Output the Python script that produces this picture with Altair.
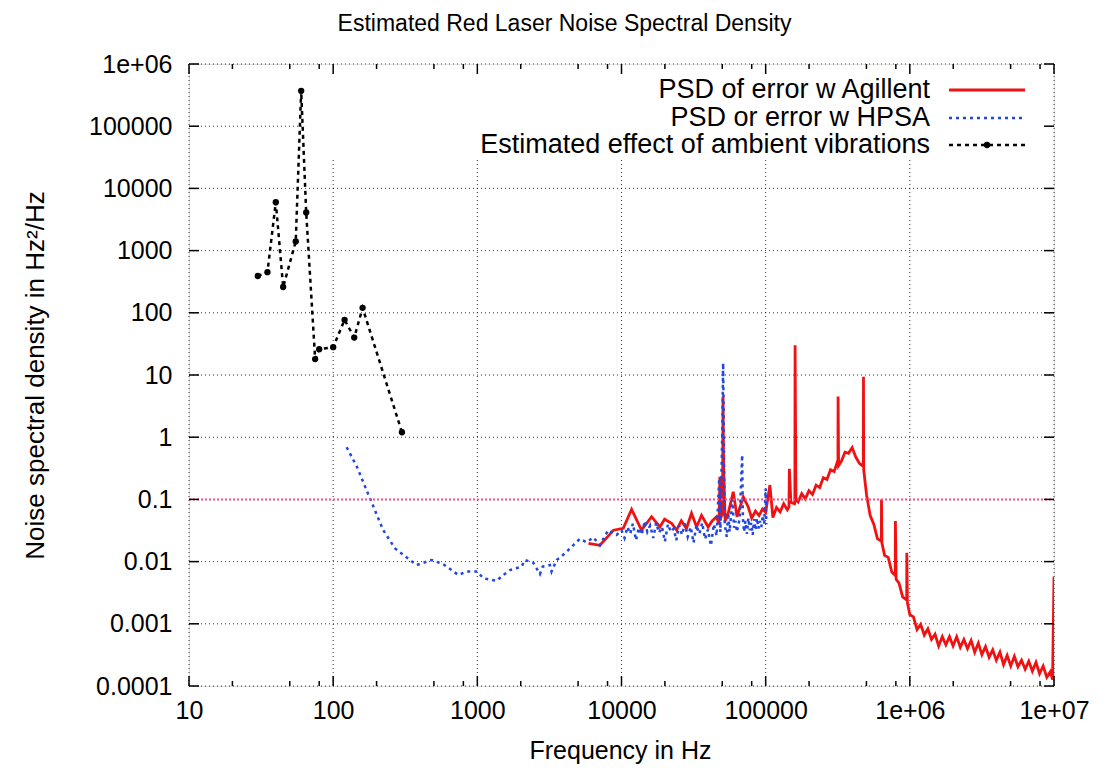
import json
import altair as alt
import pandas as pd

FONT = "Liberation Sans"

# ---- Estimated effect of ambient vibrations (black, dashed with points)
vib_f = [30, 35, 40, 45, 55, 60, 65, 75, 80, 100, 120, 140, 160, 300]
vib_v = [390, 450, 6000, 260, 1400, 370000, 4100, 18, 26, 28, 77, 40, 120, 1.2]

# ---- PSD or error w HPSA (blue, dotted)
hpsa_f = [124, 146, 180, 222, 268, 341, 379, 482, 581, 738, 843, 1000, 1099, 1361,
          1514, 1683, 2028, 2137, 2443, 2719, 2840, 3185, 3270, 3550, 3845, 4270,
          4620, 5140, 5720, 6370, 7080, 8090, 9250,
          10000, 10500, 11000, 11500, 12000, 12600, 13200, 13800, 14500, 15100,
          15800, 16600, 17400, 18200, 19100, 20000, 21000, 22000, 23000, 24000,
          25100, 26300, 27500, 28800, 30200, 31600, 33100, 34700, 36300, 38000,
          39800, 41700, 43700, 45700, 47600, 48500, 50100, 50700, 51300, 52000,
          53700, 55000, 56200, 58900, 60300, 61700, 63100, 66100, 68700, 69500,
          70800, 72400, 74100, 75900, 77600, 79400, 81300, 83200, 85100, 87100,
          89100, 91200, 93300, 95500, 97700, 100000, 101000]
hpsa_v = [0.69, 0.336, 0.104, 0.0322, 0.0164, 0.0106, 0.0088, 0.0106, 0.0091, 0.0061,
          0.0069, 0.0069, 0.0054, 0.0049, 0.0061, 0.0073, 0.0083, 0.0106, 0.0096,
          0.0063, 0.0083, 0.0088, 0.0069, 0.0106, 0.0122, 0.0153, 0.0183, 0.0232,
          0.0205, 0.0245, 0.0183, 0.032, 0.0268,
          0.032, 0.024, 0.036, 0.028, 0.041, 0.022, 0.035, 0.027, 0.045, 0.030,
          0.038, 0.024, 0.042, 0.029, 0.036, 0.021, 0.040, 0.030, 0.034, 0.022,
          0.038, 0.027, 0.041, 0.025, 0.036, 0.020, 0.039, 0.028, 0.042, 0.023,
          0.033, 0.018, 0.040, 0.026, 0.218, 0.030, 1.5, 15.6, 1.0, 0.040,
          0.025, 0.060, 0.030, 0.10, 0.035, 0.045, 0.030, 0.050, 0.52, 0.050,
          0.030, 0.045, 0.028, 0.050, 0.032, 0.042, 0.027, 0.048, 0.032, 0.050,
          0.034, 0.045, 0.036, 0.055, 0.040, 0.15, 0.040]

# ---- PSD of error w Agillent (red, solid)
agil_f = [5900, 7080, 8000, 8800, 10280, 11750, 13770, 16170, 18460, 19900, 22240,
          24100, 26000, 28200, 30600, 33200, 35900, 39900, 42500, 45600, 47500,
          48100, 48800, 50200, 50600, 51100, 52400, 55000, 59600, 63300, 69900,
          75700, 80000, 85000, 90000, 95000,
          100000, 107000, 112200, 118900, 125900, 133400, 141300, 145000, 146000,
          149600, 158500, 159400, 160000, 162200, 167900, 177800, 188400, 199500,
          211300, 223900, 237100, 251200, 266100, 281800, 298500, 316200, 317200,
          318000, 320600, 335000, 354800, 375800, 398100, 421700, 446700, 475500,
          477000, 478600, 501200, 530900, 562300, 595700, 631000, 634500, 636000,
          640000, 668300, 707900, 749900, 792000, 794300, 803500, 841400, 891300,
          944100, 951500, 953000, 961600, 1000000, 1059000, 1122000, 1189000,
          1259000, 1334000, 1413000, 1496000, 1585000, 1679000, 1778000, 1884000,
          1995000, 2113000, 2239000, 2371000, 2512000, 2661000, 2818000, 2985000,
          3162000, 3350000, 3548000, 3758000, 3981000, 4217000, 4467000, 4732000,
          5012000, 5309000, 5623000, 5957000, 6310000, 6683000, 7079000, 7499000,
          7943000, 8414000, 8913000, 9441000, 9772000, 10000000]
agil_v = [0.0197, 0.0183, 0.025, 0.032, 0.0343, 0.069, 0.032, 0.0527, 0.036, 0.048,
          0.0413, 0.032, 0.0454, 0.034, 0.060, 0.036, 0.0555, 0.036, 0.045, 0.0527,
          0.040, 0.232, 0.050, 0.060, 4.5, 0.30, 0.045, 0.060, 0.133, 0.0527, 0.11,
          0.0755, 0.050, 0.065, 0.055, 0.070,
          0.062, 0.17, 0.051, 0.074, 0.063, 0.085, 0.068, 0.075, 0.31,
          0.09, 0.085, 0.09, 30, 0.10, 0.091, 0.124, 0.102, 0.138,
          0.12, 0.17, 0.155, 0.224, 0.209, 0.30, 0.28, 0.42, 0.40,
          4.5, 0.35, 0.41, 0.575, 0.55, 0.68, 0.48, 0.38, 0.34,
          9.4, 0.30, 0.117, 0.055, 0.040, 0.0234, 0.0214, 0.022, 0.10,
          0.020, 0.0126, 0.0117, 0.0068, 0.006, 0.045, 0.0052, 0.0045, 0.0027,
          0.00245, 0.0024, 0.0139, 0.0022, 0.0014, 0.00129, 0.00081, 0.00098,
          0.00066, 0.00083, 0.00056, 0.00068, 0.00044, 0.00062, 0.00046, 0.00062,
          0.00044, 0.00062, 0.00042, 0.00056, 0.00040, 0.00054, 0.00035, 0.00049,
          0.00032, 0.00043, 0.00029, 0.00038, 0.00026, 0.00035, 0.00022, 0.00031,
          0.00021, 0.00030, 0.000204, 0.00026, 0.000186, 0.00025, 0.000174, 0.00024,
          0.000158, 0.00021, 0.000138, 0.00017, 0.000126, 0.0057]

# ---- reference level line
ref_f = [10, 10000000]
ref_v = [0.1, 0.1]

# ---- opaque key area (gnuplot "set key opaque")
key_f = [64]
key_f2 = [9750000]
key_v = [28600]
key_v2 = [970000]

# ---- axes
x_major = [10, 100, 1000, 10000, 100000, 1000000, 10000000]
x_labels = ["10", "100", "1000", "10000", "100000", "1e+06", "1e+07"]
x_minor = [20, 50, 80, 200, 500, 800, 2000, 5000, 8000, 20000, 50000, 80000,
           200000, 500000, 800000, 2000000, 5000000, 8000000]
y_major = [0.0001, 0.001, 0.01, 0.1, 1, 10, 100, 1000, 10000, 100000, 1000000]
y_labels = ["0.0001", "0.001", "0.01", "0.1", "1", "10", "100", "1000", "10000",
            "100000", "1e+06"]

legend_labels = ["PSD of error w Agillent", "PSD or error w HPSA",
                 "Estimated effect of ambient vibrations"]

W, H = 865, 622

xscale = alt.Scale(type="log", domain=[10, 10000000], nice=False)
yscale = alt.Scale(type="log", domain=[0.0001, 1000000], nice=False)

common_axis = dict(domain=False, ticks=False, tickSize=0, grid=False, labelFont=FONT,
                   labelFontSize=25, labelColor="black", titleFont=FONT,
                   titleFontWeight="normal", titleColor="black")

xaxis = alt.Axis(values=x_major,
                 labelExpr=f"{json.dumps(x_labels)}[indexof({json.dumps(x_major)}, datum.value)]",
                 labelPadding=12, labelFlush=False, labelOverlap=False,
                 title="Frequency in Hz", titleFontSize=25, titleX=431, titleY=72,
                 titleBaseline="alphabetic", titleAnchor="middle", **common_axis)
yaxis = alt.Axis(values=y_major,
                 labelExpr=f"{json.dumps(y_labels)}[indexof({json.dumps(y_major)}, datum.value)]",
                 labelPadding=17, labelOverlap=False, labelFlush=False,
                 title="Noise spectral density in Hz²/Hz", titleFontSize=26,
                 titleX=-154, titleY=311, titleAngle=-90, titleBaseline="middle",
                 titleAlign="center", **common_axis)


def X(field="f"):
    return alt.X(f"{field}:Q", scale=xscale, axis=xaxis)


def Y(field="v"):
    return alt.Y(f"{field}:Q", scale=yscale, axis=yaxis)


vib_df = pd.DataFrame({"f": vib_f, "v": vib_v})
hpsa_df = pd.DataFrame({"f": hpsa_f, "v": hpsa_v})
agil_df = pd.DataFrame({"f": agil_f, "v": agil_v})
ref_df = pd.DataFrame({"f": ref_f, "v": ref_v})
key_df = pd.DataFrame({"f": key_f, "f2": key_f2, "v": key_v, "v2": key_v2})
xmaj_df = pd.DataFrame({"f": x_major})
xmin_df = pd.DataFrame({"f": x_minor})
ymaj_df = pd.DataFrame({"v": y_major})
one = pd.DataFrame({"k": [0]})

RED = "#f01212"
BLUE = "#2246e0"

# base layer to carry axes
base = alt.Chart(ref_df).mark_point(opacity=0).encode(x=X(), y=Y())

# dotted grid at major ticks
grid_x = alt.Chart(xmaj_df).mark_rule(color="black", strokeWidth=1, strokeDash=[1, 3],
                                      opacity=0.8).encode(
    x=X(), y=alt.value(0), y2=alt.value(H))
grid_y = alt.Chart(ymaj_df).mark_rule(color="black", strokeWidth=1, strokeDash=[1, 3],
                                      opacity=0.8).encode(
    y=Y(), x=alt.value(0), x2=alt.value(W))

keybox = alt.Chart(key_df).mark_rect(fill="white", opacity=1).encode(
    x=X(), x2="f2:Q", y=Y(), y2="v2:Q")

agil = alt.Chart(agil_df).mark_line(color=RED, strokeWidth=2.8, clip=True).encode(x=X(), y=Y())
hpsa = alt.Chart(hpsa_df).mark_line(color=BLUE, strokeWidth=2.5, strokeDash=[3, 4],
                                    clip=True).encode(x=X(), y=Y())
ref = alt.Chart(ref_df).mark_line(color="#ff4f86", strokeWidth=2, strokeDash=[2, 2],
                                  opacity=1).encode(x=X(), y=Y())
vib_line = alt.Chart(vib_df).mark_line(color="black", strokeWidth=2.5,
                                       strokeDash=[4, 4]).encode(x=X(), y=Y())
vib_pts = alt.Chart(vib_df).mark_point(filled=True, color="black", size=40,
                                       opacity=1).encode(x=X(), y=Y())

# inward ticks (gnuplot style, mirrored)
tick_layers = [
    alt.Chart(xmaj_df).mark_rule(color="black", strokeWidth=1.5).encode(
        x=X(), y=alt.value(H), y2=alt.value(H - 10)),
    alt.Chart(xmaj_df).mark_rule(color="black", strokeWidth=1.5).encode(
        x=X(), y=alt.value(0), y2=alt.value(10)),
    alt.Chart(xmin_df).mark_rule(color="black", strokeWidth=1.5).encode(
        x=X(), y=alt.value(H), y2=alt.value(H - 5)),
    alt.Chart(xmin_df).mark_rule(color="black", strokeWidth=1.5).encode(
        x=X(), y=alt.value(0), y2=alt.value(5)),
    alt.Chart(ymaj_df).mark_rule(color="black", strokeWidth=1.5).encode(
        y=Y(), x=alt.value(0), x2=alt.value(10)),
    alt.Chart(ymaj_df).mark_rule(color="black", strokeWidth=1.5).encode(
        y=Y(), x=alt.value(W), x2=alt.value(W - 10)),
]

# key (label on the left, sample on the right)
rows_y = [26, 54, 81]
key_layers = []
for lab, yy in zip(legend_labels, rows_y):
    key_layers.append(alt.Chart(one).mark_text(
        align="right", baseline="middle", font=FONT, fontSize=27, color="black").encode(
        x=alt.value(741), y=alt.value(yy), text=alt.value(lab)))
key_layers.append(alt.Chart(one).mark_rule(color=RED, strokeWidth=2.8).encode(
    x=alt.value(760), x2=alt.value(836), y=alt.value(rows_y[0])))
key_layers.append(alt.Chart(one).mark_rule(color=BLUE, strokeWidth=2.5, strokeDash=[3, 4]).encode(
    x=alt.value(760), x2=alt.value(836), y=alt.value(rows_y[1])))
key_layers.append(alt.Chart(one).mark_rule(color="black", strokeWidth=2.5, strokeDash=[4, 4]).encode(
    x=alt.value(760), x2=alt.value(836), y=alt.value(rows_y[2])))
key_layers.append(alt.Chart(one).mark_point(filled=True, color="black", size=40, opacity=1).encode(
    x=alt.value(798), y=alt.value(rows_y[2])))

chart = alt.layer(base, grid_x, grid_y, keybox, agil, hpsa, ref, vib_line, vib_pts,
                  *tick_layers, *key_layers).properties(
    width=W, height=H,
    padding={"left": 189, "top": 64, "right": 51, "bottom": 87},
    autosize=alt.AutoSizeParams(type="none"),
    title=alt.TitleParams("Estimated Red Laser Noise Spectral Density", font=FONT,
                          fontSize=23, fontWeight="normal", color="black",
                          anchor="middle", dx=-57, offset=16),
).configure_view(stroke="black", strokeWidth=1.5).configure(background="white")

chart.save("out.html", embed_options={"renderer": "svg", "actions": False})
